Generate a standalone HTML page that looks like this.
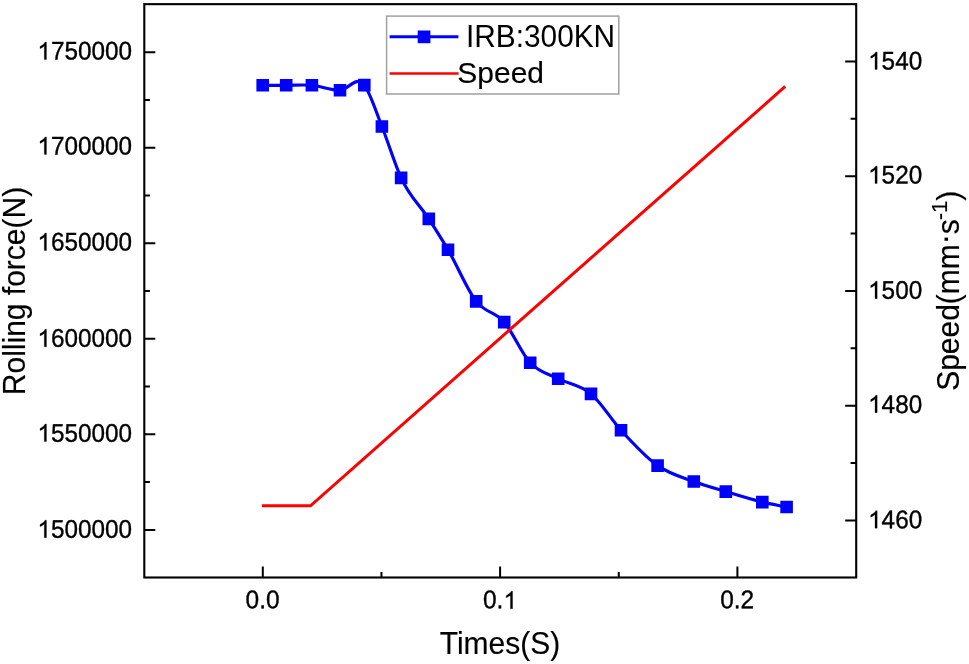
<!DOCTYPE html>
<html><head><meta charset="utf-8"><title>chart</title>
<style>html,body{margin:0;padding:0;background:#fff;}svg{display:block;will-change:transform;}text{font-family:"Liberation Sans", sans-serif;fill:#000;stroke:#000;stroke-width:0.15px;}.tk{stroke-width:0.35px;}.ns{stroke:none;}</style></head><body>
<svg width="969" height="664" viewBox="0 0 969 664">
<rect x="0" y="0" width="969" height="664" fill="#fff"/>
<rect x="144.30" y="4.15" width="711.90" height="573.35" fill="none" stroke="#000" stroke-width="2.10"/>
<path d="M144.30,529.90h11.00M144.30,434.35h11.00M144.30,338.80h11.00M144.30,243.25h11.00M144.30,147.70h11.00M144.30,52.15h11.00M144.30,482.12h5.60M144.30,386.57h5.60M144.30,291.02h5.60M144.30,195.47h5.60M144.30,99.93h5.60M856.20,520.40h-11.00M856.20,405.65h-11.00M856.20,290.90h-11.00M856.20,176.15h-11.00M856.20,61.40h-11.00M856.20,463.02h-5.60M856.20,348.27h-5.60M856.20,233.52h-5.60M856.20,118.77h-5.60M262.80,577.50v-11.00M500.10,577.50v-11.00M737.40,577.50v-11.00M381.45,577.50v-5.60M618.75,577.50v-5.60" stroke="#000" stroke-width="2.00" fill="none"/>
<text transform="translate(132,59.53) rotate(0.03) scale(1.0125,1.06)" font-size="24" text-anchor="end" class="tk">750000</text>
<path d="M763 0h-180v1147q-65 -62 -170.5 -124t-189.5 -93v174q151 71 264 172t160 196h116v-1472z" transform="translate(37.39,59.58) scale(0.01187,-0.01187)" fill="#000" stroke="#000" stroke-width="0.3" vector-effect="non-scaling-stroke"/>
<text transform="translate(132,154.57) rotate(0.03) scale(1.0125,1.06)" font-size="24" text-anchor="end" class="tk">700000</text>
<path d="M763 0h-180v1147q-65 -62 -170.5 -124t-189.5 -93v174q151 71 264 172t160 196h116v-1472z" transform="translate(37.39,154.38) scale(0.01187,-0.01187)" fill="#000" stroke="#000" stroke-width="0.3" vector-effect="non-scaling-stroke"/>
<text transform="translate(132,250.53) rotate(0.03) scale(1.0125,1.06)" font-size="24" text-anchor="end" class="tk">650000</text>
<path d="M763 0h-180v1147q-65 -62 -170.5 -124t-189.5 -93v174q151 71 264 172t160 196h116v-1472z" transform="translate(37.39,250.58) scale(0.01187,-0.01187)" fill="#000" stroke="#000" stroke-width="0.3" vector-effect="non-scaling-stroke"/>
<text transform="translate(132,346.82) rotate(0.03) scale(1.0125,1.06)" font-size="24" text-anchor="end" class="tk">600000</text>
<path d="M763 0h-180v1147q-65 -62 -170.5 -124t-189.5 -93v174q151 71 264 172t160 196h116v-1472z" transform="translate(37.39,346.83) scale(0.01187,-0.01187)" fill="#000" stroke="#000" stroke-width="0.3" vector-effect="non-scaling-stroke"/>
<text transform="translate(132,441.68) rotate(0.03) scale(1.0125,1.06)" font-size="24" text-anchor="end" class="tk">550000</text>
<path d="M763 0h-180v1147q-65 -62 -170.5 -124t-189.5 -93v174q151 71 264 172t160 196h116v-1472z" transform="translate(37.39,441.53) scale(0.01187,-0.01187)" fill="#000" stroke="#000" stroke-width="0.3" vector-effect="non-scaling-stroke"/>
<text transform="translate(132,537.72) rotate(0.03) scale(1.0125,1.06)" font-size="24" text-anchor="end" class="tk">500000</text>
<path d="M763 0h-180v1147q-65 -62 -170.5 -124t-189.5 -93v174q151 71 264 172t160 196h116v-1472z" transform="translate(37.39,537.63) scale(0.01187,-0.01187)" fill="#000" stroke="#000" stroke-width="0.3" vector-effect="non-scaling-stroke"/>
<text transform="translate(881.62,69.40) rotate(0.03) scale(1.0125,1.06)" font-size="24" class="tk">540</text>
<path d="M763 0h-180v1147q-65 -62 -170.5 -124t-189.5 -93v174q151 71 264 172t160 196h116v-1472z" transform="translate(868.10,69.38) scale(0.01187,-0.01187)" fill="#000" stroke="#000" stroke-width="0.3" vector-effect="non-scaling-stroke"/>
<text transform="translate(881.62,183.60) rotate(0.03) scale(1.0125,1.06)" font-size="24" class="tk">520</text>
<path d="M763 0h-180v1147q-65 -62 -170.5 -124t-189.5 -93v174q151 71 264 172t160 196h116v-1472z" transform="translate(868.10,183.43) scale(0.01187,-0.01187)" fill="#000" stroke="#000" stroke-width="0.3" vector-effect="non-scaling-stroke"/>
<text transform="translate(881.62,298.71) rotate(0.03) scale(1.0125,1.06)" font-size="24" class="tk">500</text>
<path d="M763 0h-180v1147q-65 -62 -170.5 -124t-189.5 -93v174q151 71 264 172t160 196h116v-1472z" transform="translate(868.10,298.63) scale(0.01187,-0.01187)" fill="#000" stroke="#000" stroke-width="0.3" vector-effect="non-scaling-stroke"/>
<text transform="translate(881.62,412.91) rotate(0.03) scale(1.0125,1.06)" font-size="24" class="tk">480</text>
<path d="M763 0h-180v1147q-65 -62 -170.5 -124t-189.5 -93v174q151 71 264 172t160 196h116v-1472z" transform="translate(868.10,412.68) scale(0.01187,-0.01187)" fill="#000" stroke="#000" stroke-width="0.3" vector-effect="non-scaling-stroke"/>
<text transform="translate(881.62,528.13) rotate(0.03) scale(1.0125,1.06)" font-size="24" class="tk">460</text>
<path d="M763 0h-180v1147q-65 -62 -170.5 -124t-189.5 -93v174q151 71 264 172t160 196h116v-1472z" transform="translate(868.10,528.13) scale(0.01187,-0.01187)" fill="#000" stroke="#000" stroke-width="0.3" vector-effect="non-scaling-stroke"/>
<text transform="translate(262.60,608.33) rotate(0.03) scale(1.02,1.06)" font-size="24" text-anchor="middle" class="tk">0.0</text>
<text transform="translate(737.20,608.33) rotate(0.03) scale(1.02,1.06)" font-size="24" text-anchor="middle" class="tk">0.2</text>
<text transform="translate(482.90,608.33) rotate(0.03) scale(1.02,1.06)" font-size="24" class="tk">0.</text>
<path d="M763 0h-180v1147q-65 -62 -170.5 -124t-189.5 -93v174q151 71 264 172t160 196h116v-1472z" transform="translate(503.52,608.75) scale(0.01187,-0.01187)" fill="#000" stroke="#000" stroke-width="0.3" vector-effect="non-scaling-stroke"/>
<text transform="translate(500,654.4) scale(1,1.03)" font-size="30" text-anchor="middle">Times(S)</text>
<text transform="translate(25.1,291.0) rotate(-90) scale(1,1.03)" font-size="30" text-anchor="middle">Rolling force(N)</text>
<text transform="translate(959.1,290.8) rotate(-90) scale(1,1.03)" font-size="30" text-anchor="middle">Speed(mm<tspan dy="-4.1">·</tspan><tspan dy="4.1">s</tspan><tspan font-size="22" dy="-12.2" dx="-1.1">-1</tspan><tspan dy="12.2">)</tspan></text>
<path d="M262.70,85.30 C270.53,85.30 278.37,85.30 286.20,85.30 C294.77,85.30 303.33,84.59 311.90,85.30 C321.27,86.08 330.63,90.50 340.00,90.20 C348.10,89.94 356.20,74.76 364.30,85.10 C370.17,92.59 376.03,111.79 381.90,126.50 C388.30,142.55 394.70,163.90 401.10,177.90 C410.33,198.09 419.57,204.56 428.80,218.90 C435.20,228.84 441.60,238.84 448.00,249.70 C457.40,265.65 466.80,289.33 476.20,301.40 C485.53,313.39 494.87,311.20 504.20,322.10 C512.87,332.22 521.53,353.40 530.20,362.80 C539.53,372.93 548.87,373.85 558.20,378.70 C569.13,384.38 580.07,384.57 591.00,393.90 C601.00,402.43 611.00,419.19 621.00,430.20 C633.20,443.63 645.40,457.04 657.60,465.60 C669.67,474.07 681.73,476.99 693.80,481.50 C704.47,485.49 715.13,488.37 725.80,491.60 C737.97,495.28 750.13,499.23 762.30,502.10 C770.40,504.01 778.50,505.37 786.60,507.00" fill="none" stroke="#0000ff" stroke-width="3.15" stroke-linejoin="round"/>
<path d="M256.40,79.00h12.60v12.60h-12.60zM279.90,79.00h12.60v12.60h-12.60zM305.60,79.00h12.60v12.60h-12.60zM333.70,83.90h12.60v12.60h-12.60zM358.00,78.80h12.60v12.60h-12.60zM375.60,120.20h12.60v12.60h-12.60zM394.80,171.60h12.60v12.60h-12.60zM422.50,212.60h12.60v12.60h-12.60zM441.70,243.40h12.60v12.60h-12.60zM469.90,295.10h12.60v12.60h-12.60zM497.90,315.80h12.60v12.60h-12.60zM523.90,356.50h12.60v12.60h-12.60zM551.90,372.40h12.60v12.60h-12.60zM584.70,387.60h12.60v12.60h-12.60zM614.70,423.90h12.60v12.60h-12.60zM651.30,459.30h12.60v12.60h-12.60zM687.50,475.20h12.60v12.60h-12.60zM719.50,485.30h12.60v12.60h-12.60zM756.00,495.80h12.60v12.60h-12.60zM780.30,500.70h12.60v12.60h-12.60z" fill="#0000ff"/>
<path d="M262.0,505.8 L310.5,505.8 L785.2,86.4" fill="none" stroke="#ff0000" stroke-width="3" stroke-linejoin="miter" stroke-linecap="butt"/>
<rect x="386.6" y="16.1" width="232.2" height="77.9" fill="#fff" stroke="#a0a0a0" stroke-width="1.5"/>
<path d="M389.6,36.8H458.4" stroke="#0000ff" stroke-width="3" fill="none"/>
<rect x="417.7" y="30.5" width="12.7" height="12.7" fill="#0000ff"/>
<path d="M389.6,73.5H458.6" stroke="#ff0000" stroke-width="2.6" fill="none"/>
<text transform="translate(466,46.9) scale(0.938,1)" font-size="31.8" class="ns">IRB:300KN</text>
<text x="457.3" y="82.9" font-size="30">Speed</text>
</svg></body></html>
